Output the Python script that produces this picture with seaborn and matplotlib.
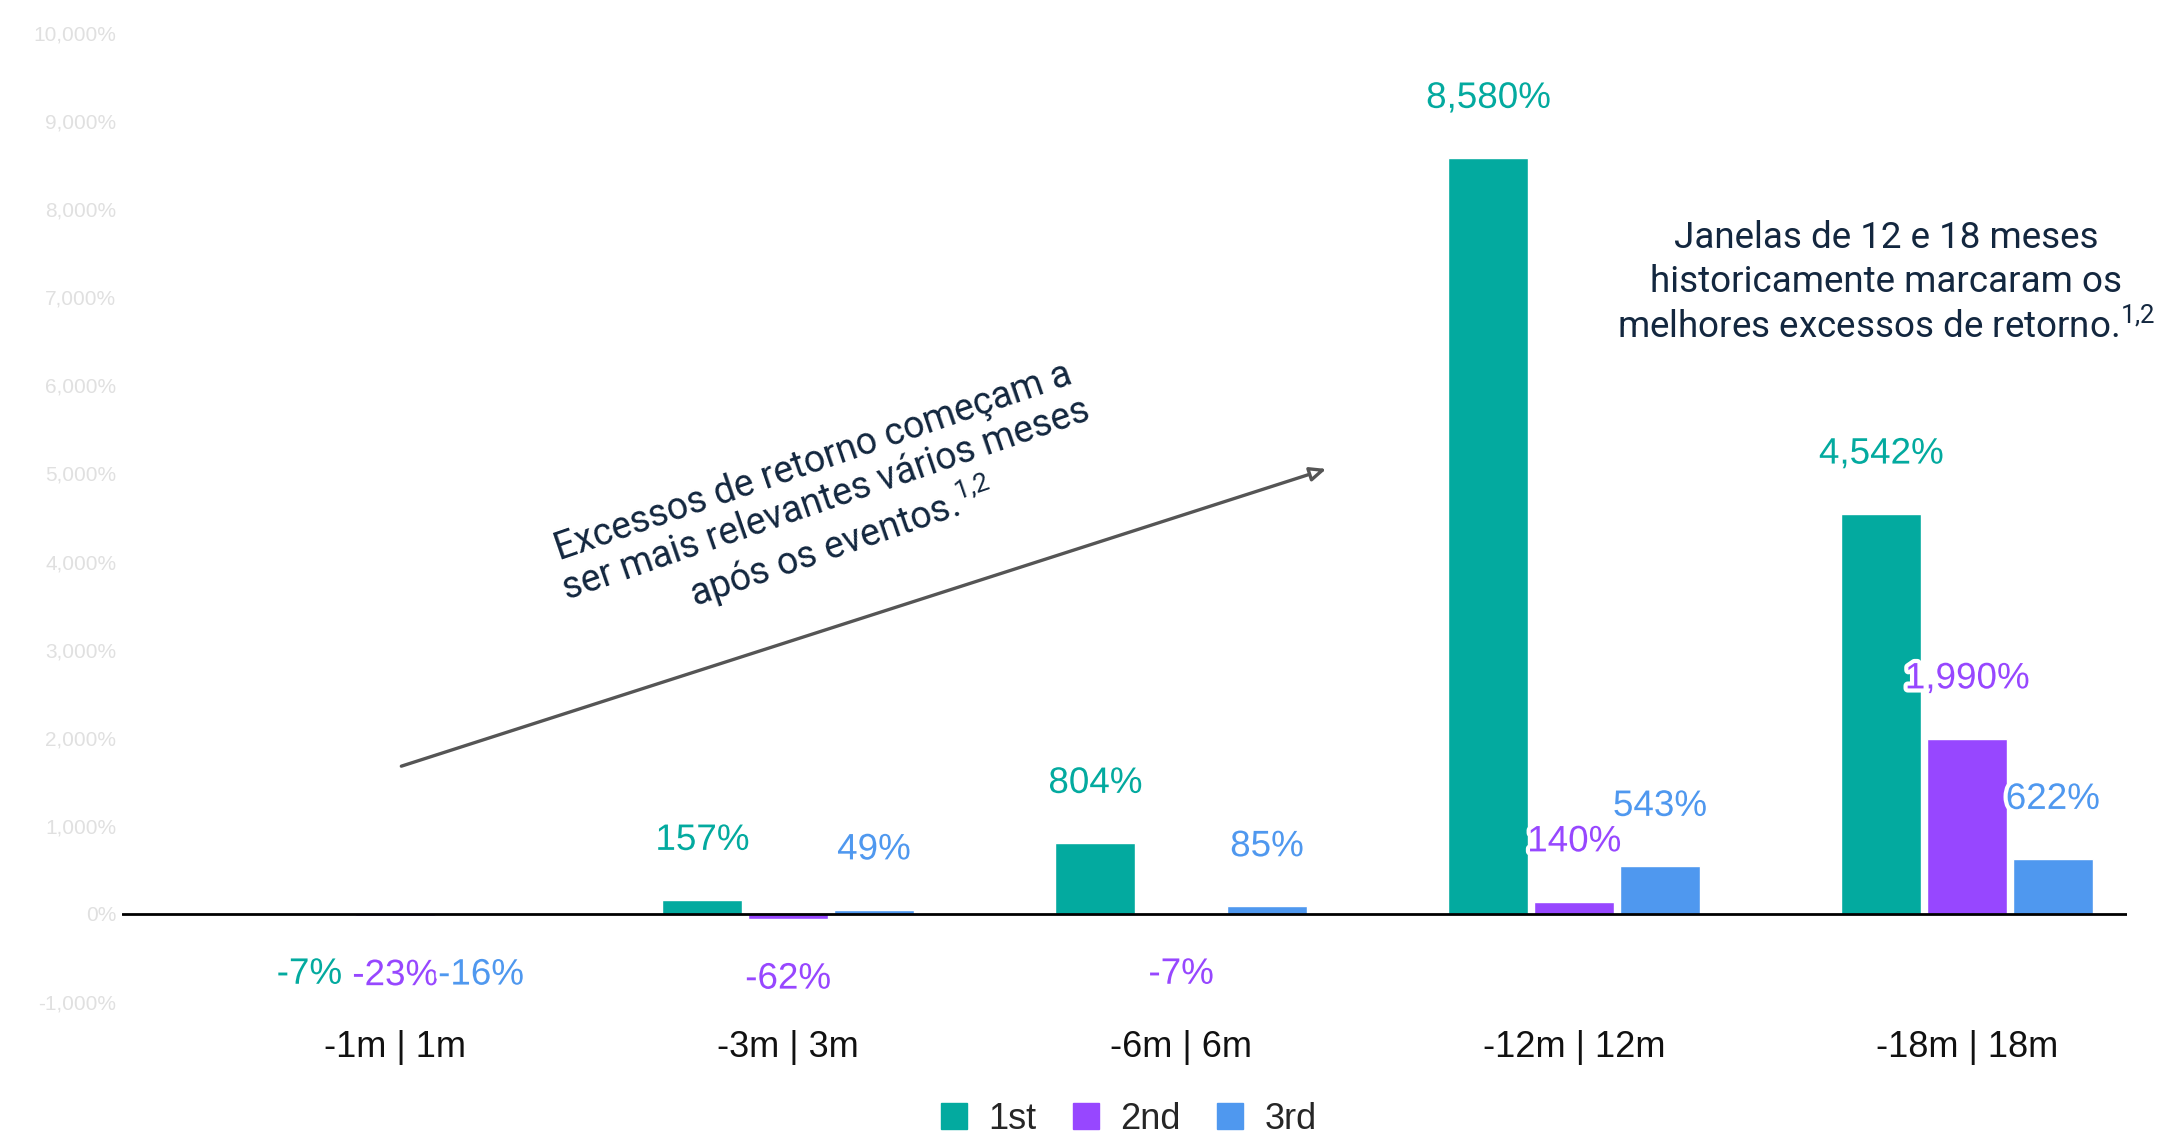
import matplotlib
matplotlib.use("Agg")
import matplotlib.pyplot as plt
import matplotlib.patheffects as pe
from matplotlib.patches import Patch
from matplotlib.ticker import FuncFormatter
import seaborn as sns
import pandas as pd

windows = ["-1m | 1m", "-3m | 3m", "-6m | 6m", "-12m | 12m", "-18m | 18m"]
series = ["1st", "2nd", "3rd"]
first = [-7, 157, 804, 8580, 4542]
second = [-23, -62, -7, 140, 1990]
third = [-16, 49, 85, 543, 622]
colors = ["#03AA9F", "#9747FF", "#4F98EF"]
y_ticks = list(range(-1000, 10001, 1000))

sns.set_theme(style="white")
plt.rcParams["font.family"] = ["Liberation Sans", "DejaVu Sans"]
plt.rcParams["mathtext.fontset"] = "custom"
plt.rcParams["mathtext.rm"] = "Roboto"
plt.rcParams["mathtext.it"] = "Roboto:italic"
plt.rcParams["mathtext.bf"] = "Roboto:bold"

rows = []
for s, vals in zip(series, [first, second, third]):
    for w, v in zip(windows, vals):
        rows.append({"window": w, "series": s, "value": v})
df = pd.DataFrame(rows)

fig = plt.figure(figsize=(21.71, 11.44), dpi=100)
ax = fig.add_axes([0.0562, 0.1241, 0.9235, 0.8471])

sns.barplot(data=df, x="window", y="value", hue="series", order=windows,
            hue_order=series, palette=colors, width=0.655, gap=0.065,
            saturation=1, legend=False, ax=ax)

ax.set_xlim(-0.695, 4.407)
ax.set_ylim(-1000, 10000)
ax.set_yticks(y_ticks)
ax.yaxis.set_major_formatter(FuncFormatter(lambda v, p: f"{v:,.0f}%"))
ax.tick_params(axis="y", labelsize=15, labelcolor="#e0e0e0", length=0, pad=4)
ax.tick_params(axis="x", labelsize=26, labelcolor="#111111", length=0, pad=20)
ax.set_xlabel("")
ax.set_ylabel("")
for sp in ax.spines.values():
    sp.set_visible(False)
ax.axhline(0, color="black", lw=2, zorder=3)

for cont, s_vals, col in zip(ax.containers, [first, second, third], colors):
    for bar, v in zip(cont.patches, s_vals):
        xc = bar.get_x() + bar.get_width() / 2
        off = 43 if v >= 0 else -43
        ax.annotate(f"{v:,}%", xy=(xc, v), xytext=(0, off),
                    textcoords="offset points", ha="center", va="center",
                    fontsize=26.5, color=col, zorder=5,
                    path_effects=[pe.withStroke(linewidth=6, foreground="white")])

ax.annotate("", xy=(0.602, 0.551), xytext=(0.138, 0.2425),
            xycoords="axes fraction", textcoords="axes fraction",
            arrowprops=dict(arrowstyle="-|>,head_length=0.8,head_width=0.35",
                            color="#555555", lw=2.4, fc="white"))

ax.text(0.352, 0.513,
        "Excessos de retorno começam a\nser mais relevantes vários meses\napós os eventos.$^{1{,}2}$",
        transform=ax.transAxes, rotation=19, rotation_mode="anchor",
        ha="center", va="center", multialignment="center",
        fontsize=27, color="#13273F", family=["Roboto", "DejaVu Sans"],
        linespacing=1.12)

ax.text(0.880, 0.742,
        "Janelas de 12 e 18 meses\nhistoricamente marcaram os\nmelhores excessos de retorno.$^{1{,}2}$",
        transform=ax.transAxes, ha="center", va="center",
        multialignment="center", fontsize=26.5, color="#13273F",
        family=["Roboto", "DejaVu Sans"], linespacing=1.27)

handles = [Patch(facecolor=c, edgecolor=c) for c in colors]
fig.legend(handles, series, loc="lower center", bbox_to_anchor=(0.52, -0.022),
           ncol=3, frameon=False, fontsize=26, handlelength=0.72,
           handleheight=0.72, handletextpad=0.6, columnspacing=1.0)

fig.savefig("out.png", dpi=100)
